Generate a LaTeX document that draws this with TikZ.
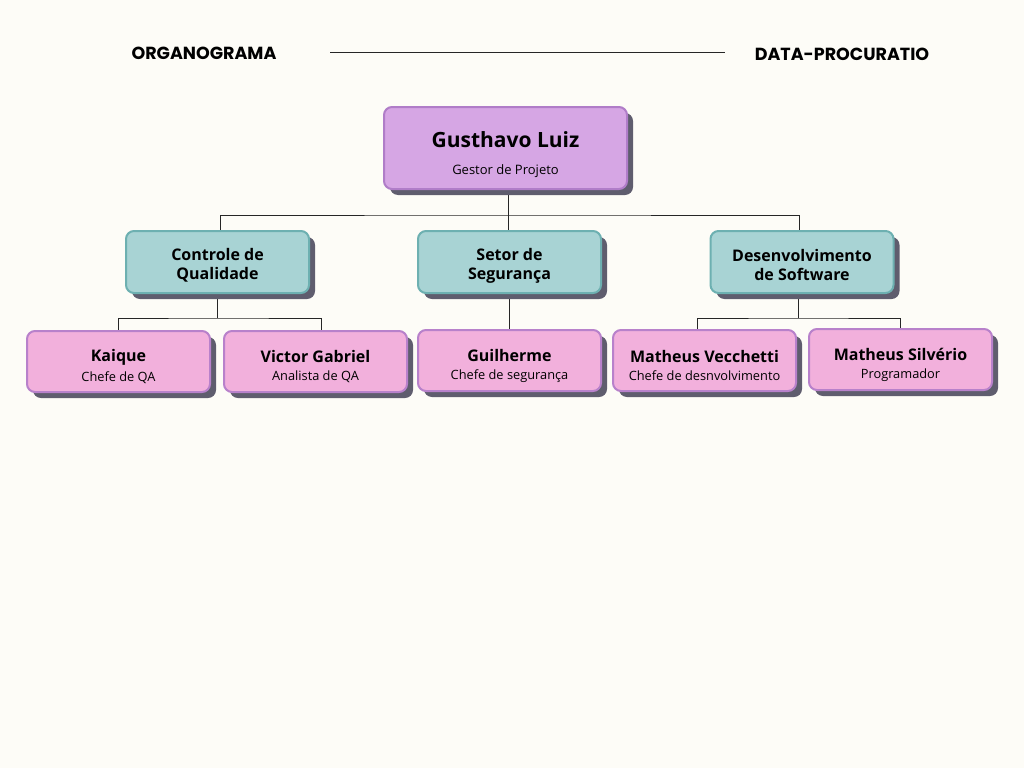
\documentclass[tikz,border=0pt]{standalone}
\usepackage{fontspec}
\setmainfont{Open Sans}
\newfontfamily\headfont{Poppins}
\usetikzlibrary{shadows}

\definecolor{paper}{HTML}{FDFCF7}
\definecolor{rootfill}{HTML}{D6A6E4}
\definecolor{rootline}{HTML}{B07DC8}
\definecolor{tealfill}{HTML}{A8D3D4}
\definecolor{tealline}{HTML}{6DB0B1}
\definecolor{pinkfill}{HTML}{F2B0DC}
\definecolor{pinkline}{HTML}{B881CB}
\definecolor{shadowgray}{HTML}{5F5D6E}

\pgfdeclarelayer{paperlayer}
\pgfdeclarelayer{linklayer}
\pgfsetlayers{paperlayer,linklayer,main}

\tikzset{
  card/.style={rounded corners=8pt,line width=2pt,align=center,inner sep=0pt,
    drop shadow={shadow xshift=6pt,shadow yshift=-6pt,fill=shadowgray,opacity=1}},
  boss/.style={card,fill=rootfill,draw=rootline,minimum width=243pt,minimum height=82pt},
  sector/.style={card,fill=tealfill,draw=tealline,minimum width=183pt,minimum height=62pt,
    font=\fontsize{16}{19}\selectfont\bfseries},
  member/.style={card,fill=pinkfill,draw=pinkline,minimum width=183pt,minimum height=61pt},
  wire/.style={line width=1pt,black!85},
  header/.style={font=\headfont\fontsize{17.5}{20}\selectfont\bfseries}
}
\newcommand{\who}[2]{\rule{0pt}{22.5pt}{\fontsize{16}{18}\selectfont\bfseries #1}\\[6pt]{\fontsize{12.8}{14}\selectfont #2}}

\begin{document}
\begin{tikzpicture}[x=1pt,y=-1pt]
  \begin{pgfonlayer}{paperlayer}
    \fill[paper] (0,0) rectangle (1024,768);
  \end{pgfonlayer}
  \useasboundingbox (0,0) rectangle (1024,768);

  % title bar
  \node[header] (title) at (204,53) {ORGANOGRAMA};
  \node[header] (brand) at (842,54) {DATA-PROCURATIO};
  \draw[wire] (330,53) -- (725,53);

  % people and sectors
  \node[boss] (gus) at (505.5,148) {\rule{0pt}{30pt}{\fontsize{21}{24}\selectfont\bfseries Gusthavo Luiz}\\[15pt]{\fontsize{13}{14}\selectfont Gestor de Projeto}};
  \node[sector] (qa)  at (217.5,262) {\rule{0pt}{19pt}Controle de\\Qualidade};
  \node[sector] (sec) at (509.5,262) {\rule{0pt}{19pt}Setor de\\Segurança};
  \node[sector] (dev) at (802,262) {\rule{0pt}{19pt}Desenvolvimento\\de Software};

  \node[member] (kai) at (118.5,361.5) {\who{Kaique}{Chefe de QA}};
  \node[member] (vic) at (315.5,361.5) {\who{Victor Gabriel}{Analista de QA}};
  \node[member] (gui) at (509.5,360.5) {\who{Guilherme}{Chefe de segurança}};
  \node[member] (mav) at (704.5,360.5) {\who{Matheus Vecchetti}{Chefe de desnvolvimento}};
  \node[member] (mas) at (900.5,359.5) {\who{Matheus Silvério}{Programador}};

  % links
  \begin{pgfonlayer}{linklayer}
  \draw[wire] ([xshift=2.5pt]gus.south) -- ([xshift=2.5pt]gus.south |- sec.north);
  \draw[wire] ([xshift=3pt]qa.north) |- ([yshift=-25pt]gus.south) -| ([xshift=-3pt]dev.north);
  \draw[wire] (sec.south) -- (gui.north);
  \draw[wire] (kai.north) |- ([yshift=-24pt]qa.south) -| ([xshift=5.5pt]vic.north);
  \draw[wire] (qa.south) -- ([yshift=-24pt]qa.south);
  \draw[wire] ([xshift=-7.5pt]mav.north) |- ([xshift=-4pt,yshift=-24pt]dev.south) -| (mas.north);
  \draw[wire] ([xshift=-4pt]dev.south) -- ([xshift=-4pt,yshift=-24pt]dev.south);
  \end{pgfonlayer}
\end{tikzpicture}
\end{document}
